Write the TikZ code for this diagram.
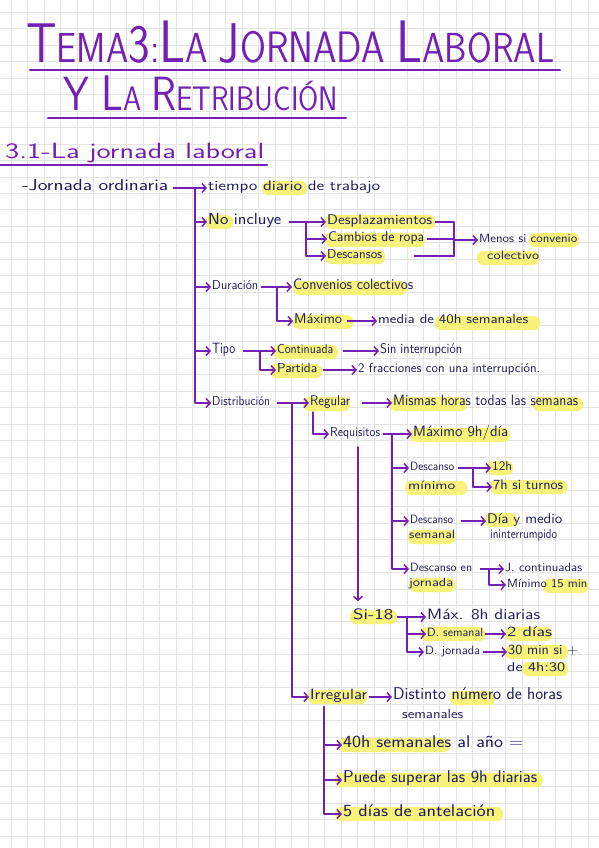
\documentclass[tikz,border=0pt]{standalone}
\usepackage{fontspec}
\usepackage{graphicx}
\usetikzlibrary{arrows.meta,calc}
\definecolor{ink}{HTML}{1E1B5C}
\definecolor{pur}{HTML}{7420B4}
\definecolor{hly}{HTML}{F7F37A}
\definecolor{gridc}{HTML}{E4E4E4}
\newcommand\hw[2]{\resizebox{#1pt}{\height}{#2}}
\newcommand\fsz[1]{\fontsize{#1}{#1}\selectfont}
\newcommand\hlt[3]{\fill[hly, rounded corners=6pt] (#1,#3-7) rectangle (#2,#3+7);}
\tikzset{
  ln/.style={draw=pur, line width=1.5pt, line cap=round, line join=round},
  arr/.style={ln, -{Straight Barb[length=4pt,width=9pt]}, shorten >=1pt},
  tx/.style={text=ink, inner sep=0pt, anchor=mid west, font=\sffamily\fsz{#1}},
  ttl/.style={text=pur, inner sep=0pt, anchor=base west, font=\sffamily},
  uline/.style={draw=pur, line width=2.4pt, line cap=round},
  gridl/.style={draw=gridc, line width=1pt}
}
\begin{document}
\begin{tikzpicture}[x=1pt,y=-1pt]
\fill[white] (0,0) rectangle (599,848);
\useasboundingbox (0,0) rectangle (599,848);
% grid
\foreach \k in {0,...,35} \draw[gridl] ({11.5+16.48*\k},0) -- ++(0,848);
\foreach \k in {0,...,50} \draw[gridl] (0,{12.2+16.48*\k}) -- ++(599,0);

% highlights
\hlt{262}{307}{188}
\hlt{206}{233}{222}
\hlt{325}{435}{222}
\hlt{325}{425}{240}
\hlt{325}{385}{257}
\hlt{529}{579}{240}
\hlt{477}{539}{258}
\hlt{293}{407}{288}
\hlt{293}{353}{322}
\hlt{435}{540}{323}
\hlt{273}{338}{352}
\hlt{270}{322}{371}
\hlt{303}{350}{404}
\hlt{390}{467}{404}
\hlt{533}{583}{404}
\hlt{410}{510}{435}
\hlt{405}{467}{488}
\hlt{487}{513}{468}
\hlt{490}{567}{487}
\hlt{408}{455}{537}
\hlt{485}{517}{520}
\hlt{409}{455}{585}
\hlt{543}{588}{586}
\hlt{350}{397}{617}
\hlt{420}{485}{634}
\hlt{505}{552}{634}
\hlt{505}{568}{652}
\hlt{522}{568}{669}
\hlt{308}{367}{697}
\hlt{450}{495}{698}
\hlt{338}{450}{745}
\hlt{335}{543}{780}
\hlt{335}{503}{814}

% titles
\node[ttl] (t1) at (26,63) {\hw{528}{\fsz{56}T\fsz{42}EMA\fsz{54}3\fsz{42}:\fsz{60}L\fsz{42}A \fsz{56}J\fsz{44}ORNADA \fsz{60}L\fsz{42}ABORAL}};
\draw[uline] (30,70) -- (560,70);
\node[ttl] (t2) at (63,111) {\hw{275}{\fsz{48}Y \fsz{50}L\fsz{34}A \fsz{48}R\fsz{34}ETRIBUCIÓN}};
\draw[uline] (48,118) -- (346,118);
\node[ttl] (t3) at (5,159) {\hw{259}{\fsz{22}3.1-La jornada laboral}};
\draw[uline] (0,165) -- (267,165);

% text nodes
\node[tx=16] (jo) at (22,188) {\hw{146}{-Jornada ordinaria}};
\node[tx=14] (ti) at (208,188) {\hw{172}{tiempo diario de trabajo}};
\node[tx=16] (ni) at (208,222) {\hw{73}{No incluye}};
\node[tx=14] (de) at (327,222) {\hw{105}{Desplazamientos}};
\node[tx=14] (ca) at (328,239) {\hw{96}{Cambios de ropa}};
\node[tx=13] (ds) at (327,256) {\hw{55}{Descansos}};
\node[tx=12] (me) at (479,240) {\hw{98}{Menos si convenio}};
\node[tx=12] (co) at (487,257) {\hw{52}{colectivo}};
\node[tx=13] (du) at (212,287) {\hw{46}{Duración}};
\node[tx=15] (cc) at (293,287) {\hw{120}{Convenios colectivos}};
\node[tx=14] (mx) at (294,321) {\hw{48}{Máximo}};
\node[tx=13] (md) at (378,321) {\hw{150}{media de 40h semanales}};
\node[tx=15] (tp) at (212,351) {\hw{23}{Tipo}};
\node[tx=13] (cn) at (277,351) {\hw{56}{Continuada}};
\node[tx=13] (pa) at (277,370) {\hw{40}{Partida}};
\node[tx=14] (si) at (380,351) {\hw{82}{Sin interrupción}};
\node[tx=13] (fr) at (358,370) {\hw{182}{2 fracciones con una interrupción.}};
\node[tx=13] (di) at (212,403) {\hw{58}{Distribución}};
\node[tx=14] (re) at (310,403) {\hw{40}{Regular}};
\node[tx=15] (mi) at (393,403) {\hw{185}{Mismas horas todas las semanas}};
\node[tx=13] (rq) at (330,434) {\hw{50}{Requisitos}};
\node[tx=15] (m9) at (413,434) {\hw{95}{Máximo 9h/día}};
\node[tx=12] (dm1) at (410,468) {\hw{44}{Descanso}};
\node[tx=12] (dm2) at (408,487) {\hw{47}{mínimo}};
\node[tx=13] (h12) at (492,468) {\hw{20}{12h}};
\node[tx=14] (h7) at (493,487) {\hw{70}{7h si turnos}};
\node[tx=12] (dsm1) at (410,521) {\hw{43}{Descanso}};
\node[tx=12] (dsm2) at (409,536) {\hw{46}{semanal}};
\node[tx=14] (dy1) at (487,521) {\hw{75}{Día y medio}};
\node[tx=13] (dy2) at (490,536) {\hw{67}{ininterrumpido}};
\node[tx=12] (dj1) at (410,569) {\hw{62}{Descanso en}};
\node[tx=12] (dj2) at (409,584) {\hw{44}{jornada}};
\node[tx=12] (jc) at (505,569) {\hw{77}{J. continuadas}};
\node[tx=12] (m15) at (507,585) {\hw{80}{Mínimo 15 min}};
\node[tx=15] (s18) at (353,617) {\hw{40}{Si-18}};
\node[tx=15] (m8) at (427,617) {\hw{113}{Máx. 8h diarias}};
\node[tx=12] (dse) at (427,634) {\hw{56}{D. semanal}};
\node[tx=14] (d2) at (507,634) {\hw{45}{2 días}};
\node[tx=12] (djo) at (425,652) {\hw{55}{D. jornada}};
\node[tx=14] (m30) at (508,652) {\hw{70}{30 min si +}};
\node[tx=13] (m30b) at (507,669) {\hw{58}{de 4h:30}};
\node[tx=15] (ir) at (310,697) {\hw{57}{Irregular}};
\node[tx=17] (dn) at (393,697) {\hw{169}{Distinto número de horas}};
\node[tx=13] (dn2) at (402,716) {\hw{61}{semanales}};
\node[tx=17] (h40) at (343,745) {\hw{180}{40h semanales al año =}};
\node[tx=17] (pu) at (343,780) {\hw{194}{Puede superar las 9h diarias}};
\node[tx=17] (d5) at (343,814) {\hw{152}{5 días de antelación}};

% main trunk
\coordinate (tx0) at (195,0);
\draw[arr, shorten <=5pt] (jo.mid east) -- (ti.mid west);
\draw[arr] (jo.mid east -| tx0) |- (di.mid west);
\foreach \n in {ni,du,tp} \draw[arr] (\n.mid west -| tx0) -- (\n.mid west);

% No incluye
\coordinate (nx) at (306,0);
\draw[ln, shorten <=8pt] (ni.mid east) -- (ni.mid east -| nx);
\draw[arr] (ni.mid east -| nx) -- (de.mid west);
\draw[arr] (ni.mid east -| nx) |- (ca.mid west);
\draw[arr] (ni.mid east -| nx) |- (ds.mid west);
% bracket
\coordinate (bx) at (454,0);
\draw[ln, shorten <=3pt] (de.mid east) -- (de.mid east -| bx) -- (ds.mid east -| bx);
\draw[ln, shorten <=3pt] (ca.mid east) -- (ca.mid east -| bx);
\draw[ln, shorten <=32pt] (ds.mid east) -- (ds.mid east -| bx);
\draw[arr] (me.mid west -| bx) -- (me.mid west);

% Duracion
\coordinate (dx) at (277,0);
\draw[arr, shorten <=3pt] (du.mid east) -- (cc.mid west);
\draw[arr] (du.mid east -| dx) |- (mx.mid west);
\draw[arr, shorten <=5pt] (mx.mid east) -- (md.mid west);

% Tipo
\coordinate (px) at (260,0);
\draw[arr, shorten <=8pt] (tp.mid east) -- (cn.mid west);
\draw[arr] (tp.mid east -| px) |- (pa.mid west);
\draw[arr, shorten <=10pt] (cn.mid east) -- (si.mid west);
\draw[arr, shorten <=6pt] (pa.mid east) -- (fr.mid west);

% Distribucion
\coordinate (rx0) at (292,0);
\draw[arr, shorten <=7pt] (di.mid east) -- (re.mid west);
\draw[arr] (di.mid east -| rx0) |- (ir.mid west);
\draw[arr, shorten <=12pt] (re.mid east) -- (mi.mid west);
\coordinate (rqx) at (313,412);
\draw[arr] (rqx) |- (rq.mid west);

% Requisitos
\coordinate (qx) at (392,0);
\draw[arr, shorten <=3pt] (rq.mid east) -- (m9.mid west);
\draw[arr] (rq.mid east -| qx) |- (dm1.mid west);
\draw[arr] (rq.mid east -| qx) |- (dsm1.mid west);
\draw[arr] (rq.mid east -| qx) |- (dj1.mid west);
\coordinate (sa) at (358,447);
\draw[arr] (sa) -- ($(sa |- s18.north)+(0,-6)$);

% Descanso minimo
\coordinate (mx2) at (473,0);
\draw[arr, shorten <=4pt] (dm1.mid east) -- (h12.mid west);
\draw[arr] (dm1.mid east -| mx2) |- (h7.mid west);
% Descanso semanal
\draw[arr, shorten <=8pt] (dsm1.mid east) -- (dy1.mid west);
% Descanso en jornada
\coordinate (jx) at (489,0);
\draw[ln, shorten <=8pt] (dj1.mid east) -- (dj1.mid east -| jx);
\draw[arr] (dj1.mid east -| jx) -- (jc.mid west);
\draw[arr] (dj1.mid east -| jx) |- (m15.mid west);

% Si-18
\coordinate (sx) at (407,0);
\draw[arr, shorten <=4pt] (s18.mid east) -- (m8.mid west);
\draw[arr] (s18.mid east -| sx) |- (dse.mid west);
\draw[arr] (s18.mid east -| sx) |- (djo.mid west);
\draw[arr, shorten <=2pt] (dse.mid east) -- (d2.mid west);
\draw[arr, shorten <=3pt] (djo.mid east) -- (m30.mid west);

% Irregular
\draw[arr, shorten <=2pt] (ir.mid east) -- (dn.mid west);
\coordinate (ix) at (324,707);
\draw[arr] (ix) |- (h40.mid west);
\draw[arr] (ix) |- (pu.mid west);
\draw[arr] (ix) |- (d5.mid west);
\end{tikzpicture}
\end{document}
